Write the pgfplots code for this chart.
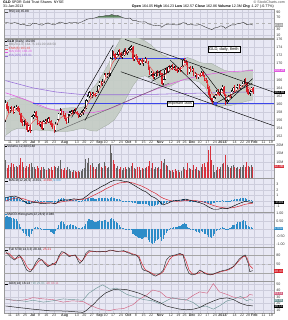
\documentclass[border=0pt]{standalone}
\usepackage{pgfplots}
\pgfplotsset{compat=1.18}
\usepackage{pgfplotstable}
\usepackage{fontspec}
\setmainfont{Liberation Sans}

\definecolor{bgc}{RGB}{232,232,244}
\definecolor{gridc}{RGB}{205,205,220}
\definecolor{cred}{RGB}{215,30,40}
\definecolor{cblk}{RGB}{25,25,25}
\definecolor{emac}{RGB}{235,80,80}
\definecolor{bbfill}{RGB}{196,204,196}
\definecolor{bbline}{RGB}{160,170,160}
\definecolor{ma100}{RGB}{225,90,225}
\definecolor{ma200}{RGB}{150,110,215}
\definecolor{hblue}{RGB}{60,70,235}
\definecolor{vblk}{RGB}{100,100,100}
\definecolor{vred}{RGB}{215,50,60}
\definecolor{histc}{RGB}{45,140,200}
\definecolor{diplus}{RGB}{110,150,150}
\definecolor{diminus}{RGB}{210,100,130}
\definecolor{rsifill}{RGB}{80,125,80}

\newcommand\tf{\fontsize{3.6}{4}\selectfont}
\newcommand\lf{\fontsize{3.2}{3.5}\selectfont}

\tikzset{
  plabel/.style={anchor=north west, font=\lf, inner sep=0.8pt, align=left},
  vbox/.style={anchor=west, font=\lf, inner sep=0.5pt, text=white},
}
\pgfplotsset{
  panel/.style={
    scale only axis, width=270pt, xmin=-19, xmax=159, anchor=south west,
    axis background/.style={fill=bgc},
    axis line style={draw=gray!80, line width=0.35pt},
    grid=major, major grid style={draw=gridc, line width=0.3pt},
    major tick length=0pt, minor tick length=0pt,
    xtick={-15,-10,-5,0,4,9,14,21,29,34,39,44,48,53,58,63,68,73,78,84,91,96,100,105,110,115,120,125,128,133,138,142,146,152,157},
    xticklabels={},
    yticklabel pos=right,
    yticklabel style={font=\tf, xshift=-1.2pt, text=black!80},
    clip mode=individual,
  },
  datelabels/.style={
    xticklabels={11,18,25,\textbf{Jul},9,16,23,\textbf{Aug},13,20,27,\textbf{Sep},10,17,24,\textbf{Oct},8,15,22,\textbf{Nov},12,19,26,\textbf{Dec},10,17,24,\textbf{2013},7,14,22,28,\textbf{Feb},11,19},
    xticklabel style={font=\tf, inner sep=0.6pt, text=black!80}},
  ebar/.style 2 args={draw=none, error bars/.cd, y dir=plus, y explicit, error mark=none, error bar style={draw=#1, line width=#2}},
  tline/.style={black, line width=0.45pt},
}

\pgfplotstableread{
x o h l c r v hist
-18 155.9 160.9 155.6 160.3 0 11.0 0.78
-17 160.0 160.6 158.2 158.8 1 6.0 0.82
-16 158.9 159.5 157.9 158.4 1 8.0 0.80
-15 158.4 159.3 157.9 159.0 0 6.5 0.76
-14 159.0 159.6 158.2 158.6 1 9.2 0.72
-13 158.5 159.2 157.6 157.9 1 8.5 0.70
-12 158.0 159.4 157.8 159.1 0 7.0 0.66
-11 159.0 159.8 158.6 159.4 0 7.5 0.62
-10 159.3 159.6 158.0 158.4 1 6.5 0.50
-9 158.4 158.9 157.3 157.6 1 8.0 0.32
-8 157.5 157.8 155.2 155.6 1 12.5 0.10
-7 155.6 156.4 154.6 155.0 1 10.0 -0.12
-6 155.0 156.0 154.5 155.7 0 7.0 -0.25
-5 155.6 156.3 154.9 155.3 1 6.0 -0.35
-4 155.3 155.6 153.2 153.6 1 7.5 -0.48
-3 153.5 154.9 153.0 154.6 0 6.5 -0.45
-2 154.4 154.8 152.9 153.4 1 8.5 -0.52
-1 153.5 157.0 153.3 156.8 0 9.5 -0.30
0 156.8 157.6 156.2 157.2 0 6.5 -0.12
1 157.2 158.4 156.9 158.0 0 7.0 0.05
2 158.0 158.3 156.5 156.9 1 5.5 0.12
3 156.8 157.0 154.8 155.2 1 7.5 0.10
4 155.2 155.8 154.6 155.0 1 6.0 0.05
5 155.0 155.9 154.3 155.6 0 5.0 0.08
6 155.5 155.7 153.5 153.9 1 7.0 -0.06
7 153.9 156.0 153.6 155.7 0 6.5 -0.02
8 155.6 156.2 155.0 155.8 0 5.5 0.02
9 155.8 156.3 155.1 155.5 1 5.0 -0.05
10 155.5 156.8 155.2 156.5 0 6.0 -0.02
11 156.4 156.8 155.4 155.8 1 5.5 -0.10
12 155.8 156.0 154.4 154.9 1 6.5 -0.18
13 154.9 155.4 153.8 154.3 1 5.0 -0.25
14 154.3 154.6 152.9 153.4 1 7.5 -0.30
15 153.4 155.6 153.1 155.2 0 6.5 -0.15
16 155.2 156.4 154.9 156.1 0 6.0 0.05
17 156.1 157.9 155.8 157.6 0 7.5 0.28
18 157.6 158.9 157.2 158.4 0 11.0 0.45
19 158.4 158.7 157.4 157.8 1 5.5 0.50
20 157.8 158.4 157.0 157.3 1 5.0 0.48
21 157.3 157.9 155.9 156.3 1 6.0 0.35
22 156.3 156.6 155.1 155.5 1 5.0 0.20
23 155.5 157.6 155.3 157.4 0 7.0 0.26
24 157.4 158.2 157.0 157.9 0 5.5 0.28
25 157.9 158.6 157.5 158.2 0 4.5 0.30
26 158.2 158.6 157.6 157.8 1 4.0 0.25
27 157.8 158.8 157.6 158.5 0 5.0 0.27
28 158.5 158.9 157.9 158.1 1 4.5 0.22
29 158.1 158.4 157.2 157.5 1 3.5 0.14
30 157.5 157.9 156.6 156.9 1 4.5 0.05
31 156.9 157.8 156.7 157.5 0 4.0 0.04
32 157.5 158.2 157.0 157.8 0 4.5 0.05
33 157.8 158.8 157.4 158.5 0 5.5 0.10
34 158.5 159.3 158.1 158.9 0 6.0 0.16
35 158.9 161.2 158.7 160.9 0 11.5 0.35
36 160.9 162.3 160.5 161.9 0 9.0 0.50
37 161.9 163.2 161.6 162.9 0 12.3 0.62
38 162.9 163.1 161.8 162.3 1 8.0 0.60
39 162.3 162.9 161.4 162.5 0 9.0 0.58
40 162.5 163.0 161.9 162.4 1 7.0 0.52
41 162.4 162.8 161.8 162.2 1 5.5 0.45
42 162.2 163.3 162.0 163.1 0 6.5 0.45
43 163.1 164.8 162.8 164.5 0 8.5 0.52
44 164.5 165.8 164.2 165.4 0 9.5 0.58
45 165.4 165.8 164.6 165.1 1 7.0 0.52
46 165.1 166.2 164.5 165.5 0 6.0 0.50
47 165.5 167.6 165.3 167.3 0 10.0 0.60
48 167.3 167.8 166.6 167.0 1 7.5 0.55
49 167.0 167.6 166.5 167.2 0 6.0 0.48
50 167.2 168.0 166.8 167.6 0 7.0 0.44
51 167.6 171.6 166.9 171.2 0 20.5 0.62
52 171.2 173.4 170.9 172.9 0 15.5 0.72
53 172.9 173.1 171.8 172.3 1 11.0 0.64
54 172.3 172.6 171.0 171.5 1 8.5 0.50
55 171.5 172.5 171.2 172.2 0 6.0 0.42
56 172.2 173.3 171.9 172.9 0 7.5 0.38
57 172.9 173.5 172.2 172.6 1 5.5 0.28
58 172.6 173.0 171.3 171.8 1 6.5 0.15
59 171.8 172.5 171.1 172.1 0 5.0 0.06
60 172.1 173.4 171.9 173.1 0 6.0 0.04
61 173.1 173.9 172.1 172.5 1 7.0 -0.05
62 172.5 173.4 172.2 173.2 0 5.5 -0.06
63 173.2 173.8 172.6 173.4 0 6.5 -0.05
64 173.4 174.3 173.1 174.0 0 6.0 -0.02
65 174.0 174.6 173.4 174.1 0 7.5 -0.03
66 174.1 174.4 170.6 171.1 1 9.0 -0.30
67 171.1 172.1 170.7 171.7 0 6.0 -0.36
68 171.7 172.4 171.0 171.3 1 5.5 -0.44
69 171.3 171.8 170.3 170.6 1 6.5 -0.52
70 170.6 171.2 169.6 170.0 1 7.0 -0.60
71 170.0 171.1 169.7 170.8 0 5.0 -0.58
72 170.8 171.4 170.0 170.3 1 6.0 -0.62
73 170.3 170.8 169.4 170.5 0 5.5 -0.60
74 170.5 171.6 170.2 171.2 0 6.0 -0.52
75 171.2 171.5 170.1 170.4 1 6.5 -0.55
76 170.4 170.6 168.5 168.8 1 7.5 -0.70
77 168.8 169.2 167.2 167.6 1 10.5 -0.85
78 167.6 168.3 167.0 167.9 0 6.0 -0.88
79 167.6 168.0 166.3 166.7 1 9.5 -0.95
80 166.7 167.4 166.2 167.1 0 5.5 -0.92
81 167.1 168.1 166.8 167.8 0 6.5 -0.80
82 167.8 168.4 167.0 167.4 1 6.0 -0.72
83 167.4 168.2 166.9 167.9 0 7.0 -0.62
84 167.9 168.4 167.3 167.7 1 5.5 -0.55
85 167.7 167.8 164.6 165.0 1 10.5 -0.75
86 165.0 166.2 164.8 166.0 0 9.0 -0.62
87 166.0 168.8 165.9 168.5 0 12.0 -0.38
88 168.5 169.0 167.4 167.9 1 8.0 -0.28
89 167.9 169.5 167.7 169.2 0 7.5 -0.12
90 169.2 169.6 168.6 169.0 1 5.0 -0.04
91 169.0 169.7 168.6 169.4 0 4.5 0.04
92 169.4 169.8 168.5 168.8 1 5.0 0.06
93 168.8 169.5 168.4 169.1 0 4.0 0.10
94 169.1 169.4 168.2 168.6 1 5.5 0.10
95 168.6 169.0 167.8 168.3 1 4.5 0.12
96 168.3 169.1 167.9 168.8 0 5.0 0.16
97 168.8 169.2 168.0 168.4 1 4.0 0.18
98 168.4 169.5 168.2 169.3 0 4.5 0.24
99 169.3 171.2 169.1 170.9 0 7.0 0.34
100 170.9 171.4 170.2 170.6 1 5.5 0.36
101 170.6 170.9 169.7 170.2 1 5.0 0.32
102 170.2 170.4 167.3 167.8 1 9.5 0.10
103 167.8 169.2 167.5 168.9 0 6.0 0.08
104 168.9 169.3 167.9 168.3 1 5.5 0.02
105 168.3 169.3 168.0 168.9 0 5.0 0.02
106 168.9 169.0 166.9 167.3 1 8.0 -0.10
107 167.3 167.9 166.6 167.5 0 5.5 -0.14
108 167.5 167.8 166.3 166.6 1 6.5 -0.22
109 166.6 167.5 166.2 167.2 0 5.0 -0.22
110 167.2 167.7 166.7 167.1 1 4.5 -0.24
111 167.1 168.2 166.9 167.9 0 6.5 -0.16
112 167.9 168.3 166.6 166.9 1 8.5 -0.22
113 166.9 167.2 165.6 165.9 1 9.0 -0.30
114 165.9 166.4 165.3 165.7 1 7.0 -0.34
115 165.7 166.0 163.8 164.2 1 10.0 -0.40
116 164.2 164.4 161.8 162.2 1 17.5 -0.50
117 162.2 162.5 160.9 161.4 1 19.5 -0.55
118 161.4 161.6 159.9 160.6 1 11.0 -0.58
119 160.6 161.9 160.4 161.6 0 8.0 -0.44
120 161.6 162.5 161.2 162.3 0 4.0 -0.30
121 162.3 163.4 162.0 163.1 0 5.0 -0.14
122 163.1 163.6 162.3 162.5 1 6.5 -0.08
123 162.5 163.0 161.9 162.2 1 5.5 -0.04
124 162.2 163.9 162.0 163.6 0 7.0 0.06
125 163.6 164.7 163.3 164.3 0 8.5 0.12
126 164.3 164.4 162.0 162.4 1 9.5 0.04
127 162.4 162.6 159.8 160.4 1 14.5 -0.10
128 160.4 161.2 160.0 160.9 0 8.0 -0.06
129 160.9 162.3 160.6 162.0 0 7.0 0.02
130 162.0 162.5 161.4 161.8 1 6.0 0.04
131 161.8 163.5 161.6 163.2 0 7.5 0.14
132 163.2 164.3 162.9 164.0 0 8.0 0.24
133 164.0 164.6 163.1 163.4 1 6.5 0.28
134 163.4 164.3 163.2 164.0 0 6.0 0.34
135 164.0 165.0 163.7 164.7 0 7.0 0.42
136 164.7 165.0 163.6 163.9 1 5.5 0.44
137 163.9 164.8 163.6 164.5 0 6.5 0.48
138 164.5 165.4 164.2 165.1 0 7.0 0.52
139 165.1 166.2 164.9 165.8 0 8.0 0.56
140 165.8 166.4 165.0 165.3 1 6.5 0.52
141 165.3 165.4 162.6 162.9 1 10.0 0.28
142 162.9 163.6 162.2 162.6 1 7.5 0.16
143 162.6 163.4 162.1 163.1 0 6.5 0.12
144 163.1 164.3 162.9 164.0 0 8.0 0.14
145 164.0 164.3 162.6 162.9 1 7.0 0.04
}\pricedata

\pgfplotstableread{
x up lo
-18 160.5 152.2
-14 161.4 153.4
-10 161.6 154.0
-6 161.2 154.0
-2 160.6 153.4
2 159.8 153.6
6 159.2 153.4
10 158.8 153.4
14 158.5 153.3
18 158.7 153.2
22 159.0 153.2
26 159.1 153.4
30 159.0 153.8
34 159.4 154.0
38 163.2 153.4
42 165.0 153.3
46 167.4 154.2
50 170.0 155.0
54 173.6 156.2
58 176.2 158.5
62 176.8 161.8
66 176.8 164.5
70 176.3 166.6
74 175.6 167.0
78 174.6 166.2
82 173.2 165.2
86 172.0 164.2
90 171.4 164.3
94 171.0 165.1
98 171.2 165.9
102 171.5 166.1
106 171.0 165.9
110 170.3 165.4
114 170.0 164.0
118 170.0 160.0
122 169.2 159.2
126 168.4 159.6
130 168.0 159.6
134 167.8 160.0
138 168.0 160.4
142 168.4 160.8
145 168.5 161.0
}\bbdata

\pgfplotstableread{
x y
-18 156.0
-16 157.6
-14 158.3
-12 158.5
-10 158.7
-8 157.6
-6 156.6
-4 155.5
-2 154.7
0 155.6
2 156.3
4 155.8
6 155.0
8 155.2
10 155.6
12 155.5
14 154.7
16 155.1
18 156.5
20 157.0
22 156.5
24 156.9
26 157.5
28 157.9
30 157.4
32 157.4
34 158.2
36 159.9
38 161.3
40 162.0
42 162.6
44 163.8
46 165.0
48 166.3
50 167.2
52 169.8
54 171.0
56 171.8
58 172.0
60 172.4
62 172.6
64 173.3
66 172.5
68 171.9
70 170.9
72 170.6
74 170.7
76 169.9
78 168.8
80 167.9
82 167.6
84 167.7
86 166.8
88 167.5
90 168.3
92 168.8
94 168.7
96 168.6
98 168.8
100 169.8
102 169.2
104 168.8
106 168.1
108 167.4
110 167.2
112 167.1
114 166.2
116 164.4
118 162.6
120 162.0
122 162.3
124 162.8
126 162.9
128 161.9
130 161.7
132 162.6
134 163.3
136 163.8
138 164.4
140 165.0
142 164.1
144 163.6
145 163.4
}\emadata

\pgfplotstableread{
x m100
-18 162.8
-10 161.8
0 160.4
10 158.9
20 158.1
30 157.7
40 157.9
50 158.7
60 160.3
70 162.0
80 163.5
90 164.9
100 166.1
110 167.0
120 167.6
130 168.0
140 168.2
145 168.3
}\madata

\pgfplotstableread{
x m200
-18 165.8
0 164.0
15 163.0
31 162.4
45 162.3
60 162.3
80 162.4
100 162.6
120 162.8
145 163.0
}\mbdata

\pgfplotstableread{
x y
-18 54
-16 52
-14 51
-12 53
-10 51
-8 46
-6 47
-4 43
-2 42
0 51
2 50
4 47
6 44
8 49
10 52
12 48
14 45
16 50
18 55
20 52
22 49
24 53
26 52
28 54
30 51
32 55
34 60
36 65
38 67
40 68
42 71
44 75
46 75
48 77
50 77
52 81
54 77
56 78
58 73
60 69
62 67
64 69
66 60
68 60
70 56
72 55
74 56
76 49
78 46
80 43
82 44
84 43
85 37
87 45
89 48
91 48
93 46
95 45
97 47
99 53
101 51
102 45
104 48
106 45
108 44
110 47
112 42
114 37
116 33
118 29
120 35
122 37
124 42
126 38
127 33
129 40
131 45
133 45
135 50
137 51
139 54
141 46
143 48
145 45
}\rsidata

\pgfplotstableread{
x m s
-18 0.6 0.0
-15 0.8 0.3
-12 0.9 0.5
-9 0.6 0.6
-6 0.0 0.4
-3 -0.5 0.1
0 -0.3 -0.1
3 -0.3 -0.2
6 -0.5 -0.3
9 -0.4 -0.35
12 -0.35 -0.35
15 -0.5 -0.4
18 0.1 -0.2
21 0.2 -0.05
24 0.2 0.05
27 0.4 0.2
30 0.3 0.25
33 0.4 0.3
36 1.0 0.5
39 1.7 0.9
42 2.1 1.3
45 2.6 1.7
48 3.0 2.2
51 3.5 2.6
54 3.8 3.0
57 3.8 3.3
60 3.6 3.4
63 3.5 3.45
66 3.0 3.3
69 2.5 3.0
72 2.0 2.7
75 1.6 2.3
78 0.9 1.8
81 0.5 1.4
84 -0.2 0.8
86 -0.7 0.5
89 -0.4 0.2
92 0.0 0.0
95 0.1 -0.05
98 0.2 0.0
101 0.35 0.1
104 0.1 0.15
107 -0.1 0.1
110 -0.3 -0.05
113 -0.6 -0.2
116 -1.1 -0.5
119 -1.5 -0.8
122 -1.5 -1.05
125 -1.3 -1.2
128 -1.4 -1.3
131 -1.1 -1.25
134 -0.7 -1.1
137 -0.35 -0.85
140 -0.05 -0.6
143 -0.2 -0.45
145 -0.3 -0.4
}\macddata

\pgfplotstableread{
x k
-18 91
-16 80
-15 74
-13 66
-12 63
-10 75
-9 80
-7 63
-5 40
-4 30
-2 24
-1 27
1 45
2 55
4 69
6 63
8 50
10 41
12 48
13 52
15 47
17 75
19 91
21 88
24 74
26 78
28 80
30 60
31 52
33 63
35 85
37 94
40 92
42 90
44 91
46 91
48 90
51 96
53 94
55 91
57 92
60 94
62 88
64 85
66 80
68 80
70 69
72 35
73 30
76 25
78 18
79 14
81 10
83 17
84 19
86 30
88 63
90 74
92 78
94 80
97 85
99 80
101 41
103 19
105 14
107 17
108 19
110 30
112 25
113 19
115 16
117 14
119 17
120 19
122 23
123 25
125 28
127 30
129 33
130 36
132 41
134 52
136 66
138 74
140 80
141 65
142 52
143 25
145 28
}\stokdata

\pgfplotstableread{
x d
-18 85
-16 86
-14 76
-12 66
-10 70
-8 75
-6 62
-4 42
-2 30
0 33
2 47
4 60
6 64
8 55
10 45
12 46
14 50
16 60
18 78
20 88
22 84
24 78
26 77
28 78
30 67
32 58
34 70
36 85
38 92
41 91
44 90
47 91
50 93
53 94
56 92
59 92
62 91
64 87
66 83
68 80
70 75
72 50
74 32
76 26
78 21
80 15
82 13
84 17
86 25
88 45
90 64
92 75
94 78
97 82
99 82
101 60
103 30
105 18
107 16
109 20
111 25
113 22
115 18
117 15
119 16
121 20
123 23
125 26
127 28
129 31
131 36
133 44
135 56
137 67
139 75
141 73
143 45
145 35
}\stoddata

\pgfplotstableread{
x p
-18 26
-11 25
-4 23
0 25
7 22
13 24
20 27
26 26
33 25
37 36
42 44
46 49
51 42
55 44
62 34
66 31
73 26
79 24
84 19
88 24
92 29
97 26
101 26
106 21
110 14
114 16
119 11
123 16
128 24
132 26
137 31
141 24
143 26
145 25
}\dipdata

\pgfplotstableread{
x n
-18 27
-11 24
-4 26
0 29
7 27
13 26
20 22
26 24
33 23
37 18
42 13
46 10
51 9
55 11
60 12
66 18
70 26
75 33
79 41
84 38
88 30
92 28
97 27
101 25
106 33
110 38
115 36
119 51
123 38
128 34
132 30
137 28
141 30
143 34
145 33
}\dimdata

\pgfplotstableread{
x a
-18 16
-11 14
0 11
11 8.5
22 8
33 6
35 8.5
40 18.6
44 28.7
48 36.3
53 41.4
57 42.4
62 41.4
66 38.8
70 36
75 31
79 26
84 21
88 16
92 13.6
97 11
101 10
106 11
110 13.6
114 18.6
119 23.7
123 27.2
128 28.7
132 26.2
137 20.1
141 17.1
145 16.1
}\adxdata

\begin{document}
\begin{tikzpicture}
\useasboundingbox (0,0) rectangle (287pt,320pt);
\fill[white] (0,0) rectangle (287pt,320pt);

% header
\node[anchor=north west, font=\tf, inner sep=0pt] at (3pt,319.5pt) {\textbf{GLD} SPDR Gold Trust Shares \ NYSE};
\node[anchor=north west, font=\tf, inner sep=0pt] at (3pt,315pt) {31-Jan-2013};
\node[anchor=north east, font=\tf, inner sep=0pt, text=black!70] at (285pt,319.5pt) {\textcopyright\ StockCharts.com};
\node[anchor=north east, font=\tf, inner sep=0pt] at (274pt,315pt) {\textbf{Open} 164.05 \textbf{High} 164.23 \textbf{Low} 162.57 \textbf{Close} 162.86 \textbf{Volume} 12.3M \textbf{Chg} -1.27 (-0.77\%)};

% RSI
\begin{axis}[panel, at={(4pt,282pt)}, height=29pt, ymin=0, ymax=100, ytick={10,30,70,90}, yticklabels={10,30,70,90}]
\addplot[fill=rsifill, draw=none, fill opacity=0.9] coordinates {(41.3,70) (42,71) (44,75) (46,75) (48,77) (50,77) (52,81) (54,77) (56,78) (58,73) (59.5,70)} -- cycle;
\addplot[gray!60, dashed, line width=0.3pt] coordinates {(-19,50) (159,50)};
\addplot[black!75, line width=0.4pt] table[x=x,y=y] {\rsidata};
\node[plabel] at (rel axis cs:0,1) {\textcolor{black!70}{\rule[0.4pt]{3pt}{0.4pt}} RSI(14) 45.08};
\node[vbox, fill=gray!70] at (axis cs:159,45) {45.08};
\end{axis}

% PRICE
\begin{axis}[panel, datelabels, at={(4pt,180pt)}, height=101pt, ymin=151.1, ymax=176.1,
  ytick={152,154,...,176}, yticklabels={152,154,156,158,160,162,164,166,{},170,172,174,176}]
\addplot[fill=bbfill, draw=none, fill opacity=0.9] coordinates {(-18,160.5) (-14,161.4) (-10,161.6) (-6,161.2) (-2,160.6) (2,159.8) (6,159.2) (10,158.8) (14,158.5) (18,158.7) (22,159.0) (26,159.1) (30,159.0) (34,159.4) (38,163.2) (42,165.0) (46,167.4) (50,170.0) (54,173.6) (58,176.2) (62,176.8) (66,176.8) (70,176.3) (74,175.6) (78,174.6) (82,173.2) (86,172.0) (90,171.4) (94,171.0) (98,171.2) (102,171.5) (106,171.0) (110,170.3) (114,170.0) (118,170.0) (122,169.2) (126,168.4) (130,168.0) (134,167.8) (138,168.0) (142,168.4) (145,168.5)
 (145,161.0) (142,160.8) (138,160.4) (134,160.0) (130,159.6) (126,159.6) (122,159.2) (118,160.0) (114,164.0) (110,165.4) (106,165.9) (102,166.1) (98,165.9) (94,165.1) (90,164.3) (86,164.2) (82,165.2) (78,166.2) (74,167.0) (70,166.6) (66,164.5) (62,161.8) (58,158.5) (54,156.2) (50,155.0) (46,154.2) (42,153.3) (38,153.4) (34,154.0) (30,153.8) (26,153.4) (22,153.2) (18,153.2) (14,153.3) (10,153.4) (6,153.4) (2,153.6) (-2,153.4) (-6,154.0) (-10,154.0) (-14,153.4) (-18,152.2)} -- cycle;
\addplot[bbline, line width=0.3pt] table[x=x,y=up] {\bbdata};
\addplot[bbline, line width=0.3pt] table[x=x,y=lo] {\bbdata};
\addplot[ma200, line width=0.55pt] table[x=x,y=m200] {\mbdata};
\addplot[ma100, line width=0.55pt] table[x=x,y=m100] {\madata};
\addplot[hblue, line width=0.8pt] coordinates {(0,160.2) (159,160.2)};
\addplot[hblue, line width=0.6pt] coordinates {(51,171.4) (101,171.4)};
% candles: wicks (low to high) and bodies (open to close); red = close below prior close; up bodies hollow
\addplot[ebar={cblk}{0.3pt}] table[x=x, y expr={\thisrow{r}==0 ? \thisrow{l} : nan}, y error plus expr=\thisrow{h}-\thisrow{l}] {\pricedata};
\addplot[ebar={cred}{0.3pt}] table[x=x, y expr={\thisrow{r}==1 ? \thisrow{l} : nan}, y error plus expr=\thisrow{h}-\thisrow{l}] {\pricedata};
\addplot[ebar={cblk}{1.1pt}] table[x=x, y expr={\thisrow{r}==0 ? \thisrow{o} : nan}, y error plus expr=\thisrow{c}-\thisrow{o}] {\pricedata};
\addplot[ebar={white}{0.45pt}] table[x=x, y expr={\thisrow{r}==0 ? \thisrow{o}+0.12 : nan}, y error plus expr=\thisrow{c}-\thisrow{o}-0.24] {\pricedata};
\addplot[ebar={cred}{1.1pt}] table[x=x, y expr={\thisrow{r}==1 ? \thisrow{c} : nan}, y error plus expr=\thisrow{o}-\thisrow{c}] {\pricedata};
\addplot[emac, line width=0.5pt] table[x=x,y=y] {\emadata};
% trend lines
\addplot[black!60, line width=0.45pt] coordinates {(14,153.0) (90,165.2)};
\addplot[tline] coordinates {(25.6,156.7) (53,174.6)};
\addplot[tline] coordinates {(34.3,155.9) (60.8,173.8)};
\addplot[tline] coordinates {(60.8,176.0) (159,162.9)};
\addplot[tline] coordinates {(58,168.0) (159,154.6)};
\addplot[tline] coordinates {(76,166.7) (90.5,169.4)};
\addplot[tline] coordinates {(78.4,165.6) (90.5,168.2)};
\addplot[tline] coordinates {(90.5,170.9) (120.2,160.1)};
\addplot[tline] coordinates {(110.3,169.2) (128,160.4)};
\addplot[tline] coordinates {(120.2,160.1) (144.4,165.1)};
\addplot[tline] coordinates {(128,160.4) (145,166.3)};
\addplot[only marks, mark=square*, mark size=0.7pt, hblue] coordinates {(120.2,160.2)};
\node[draw=black, fill=white, line width=0.3pt, font=\fontsize{4}{4.5}\selectfont, inner sep=1.1pt] at (axis cs:126,173.5) {GLD, daily, 8mth};
\node[draw=black, fill=white, line width=0.3pt, font=\fontsize{3.6}{4}\selectfont, inner sep=0.9pt] at (axis cs:97,160.2) {Important 160s};
\node[plabel] at (rel axis cs:0,1) {\rule{1.6pt}{1.6pt} \textbf{GLD} (Daily) 162.86\\
\textcolor{gray}{\rule[0.4pt]{3pt}{0.4pt} BB(20,2.0) 164.75 161.00 168.50}\\
\textcolor{emac}{\rule[0.4pt]{3pt}{0.4pt} EMA(8) 163.43}\\
\textcolor{ma100}{\rule[0.4pt]{3pt}{0.4pt} MA(100) 168.28}\\
\textcolor{ma200}{\rule[0.4pt]{3pt}{0.4pt} MA(200) 163.01}};
\node[vbox, fill=ma100] at (axis cs:159,168.3) {168.28};
\node[vbox, fill=black] at (axis cs:159,162.8) {162.86};
\end{axis}

% VOLUME
\begin{axis}[panel, at={(4pt,142pt)}, height=34pt, ymin=0, ymax=21, ytick={5,10,15,20}, yticklabels={{},10M,15M,20M}]
\addplot[ebar={vblk}{0.95pt}] table[x=x, y expr={\thisrow{r}==0 ? 0 : nan}, y error plus=v] {\pricedata};
\addplot[ebar={vred}{0.95pt}] table[x=x, y expr={\thisrow{r}==1 ? 0 : nan}, y error plus=v] {\pricedata};
\node[plabel] at (rel axis cs:0,1) {\rule{1.6pt}{1.6pt} Volume 12,303,548};
\node[vbox, fill=vred] at (axis cs:159,7) {12.3M};
\end{axis}

% MACD
\begin{axis}[panel, at={(4pt,108pt)}, height=34pt, ymin=-2.0, ymax=4.2, ytick={-1,0,1,2,3}, yticklabels={-1,{},1,2,3}]
\addplot[ebar={histc}{1.05pt}] table[x=x, y expr=0, y error plus=hist] {\pricedata};
\addplot[cred, line width=0.45pt] table[x=x,y=s] {\macddata};
\addplot[black, line width=0.45pt] table[x=x,y=m] {\macddata};
\node[plabel] at (rel axis cs:0,1) {\rule[0.4pt]{3pt}{0.4pt} MACD(12,26,9) -0.301, \textcolor{cred}{-0.398}, \textcolor{histc}{0.097}};
\node[vbox, fill=black] at (axis cs:159,-0.3) {-0.301};
\end{axis}

% MACD histogram
\begin{axis}[panel, at={(4pt,73pt)}, height=35pt, ymin=-1.17, ymax=1.1, ytick={-1,-0.5,0,0.5,1}, yticklabels={-1.00,-0.50,{},0.50,1.00}]
\addplot[ebar={histc}{1.15pt}] table[x=x, y expr=0, y error plus=hist] {\pricedata};
\node[plabel] at (rel axis cs:0,1) {\textcolor{histc}{\rule{1.6pt}{1.6pt}} MACD-Histogram(12,26,9) 0.040};
\node[vbox, fill=histc] at (axis cs:159,0.04) {0.040};
\end{axis}

% Full stochastics
\begin{axis}[panel, at={(4pt,39pt)}, height=34pt, ymin=-6, ymax=106, ytick={20,50,80}, yticklabels={{},50,80}]
\addplot[gray!70, line width=0.45pt] coordinates {(-19,80) (159,80)};
\addplot[gray!70, line width=0.45pt] coordinates {(-19,20) (159,20)};
\addplot[gray!60, dashed, line width=0.3pt] coordinates {(-19,50) (159,50)};
\addplot[cred, line width=0.45pt] table[x=x,y=d] {\stoddata};
\addplot[black!85, line width=0.45pt] table[x=x,y=k] {\stokdata};
\node[plabel] at (rel axis cs:0,1) {\rule[0.4pt]{3pt}{0.4pt} Full STO(14,3,3) 28.43, \textcolor{cred}{25.21}};
\node[vbox, fill=cred] at (axis cs:159,27) {28.43};
\end{axis}

% DMI
\begin{axis}[panel, datelabels, at={(4pt,7pt)}, height=32pt, ymin=5, ymax=55, ytick={10,20,30,40,50}, yticklabels={10,20,30,40,50}]
\addplot[diminus, line width=0.45pt] table[x=x,y=n] {\dimdata};
\addplot[diplus, line width=0.45pt] table[x=x,y=p] {\dipdata};
\addplot[black!85, line width=0.5pt] table[x=x,y=a] {\adxdata};
\node[plabel] at (rel axis cs:0,1) {\rule[0.4pt]{3pt}{0.4pt} ADX(14) 16.14 \textcolor{diplus}{+DI 25.01} \textcolor{diminus}{-DI 33.11}};
\node[vbox, fill=diminus] at (axis cs:159,35) {33.11};
\node[vbox, fill=diplus] at (axis cs:159,25) {25.01};
\node[vbox, fill=black] at (axis cs:159,15) {16.14};
\end{axis}
\end{tikzpicture}
\end{document}
